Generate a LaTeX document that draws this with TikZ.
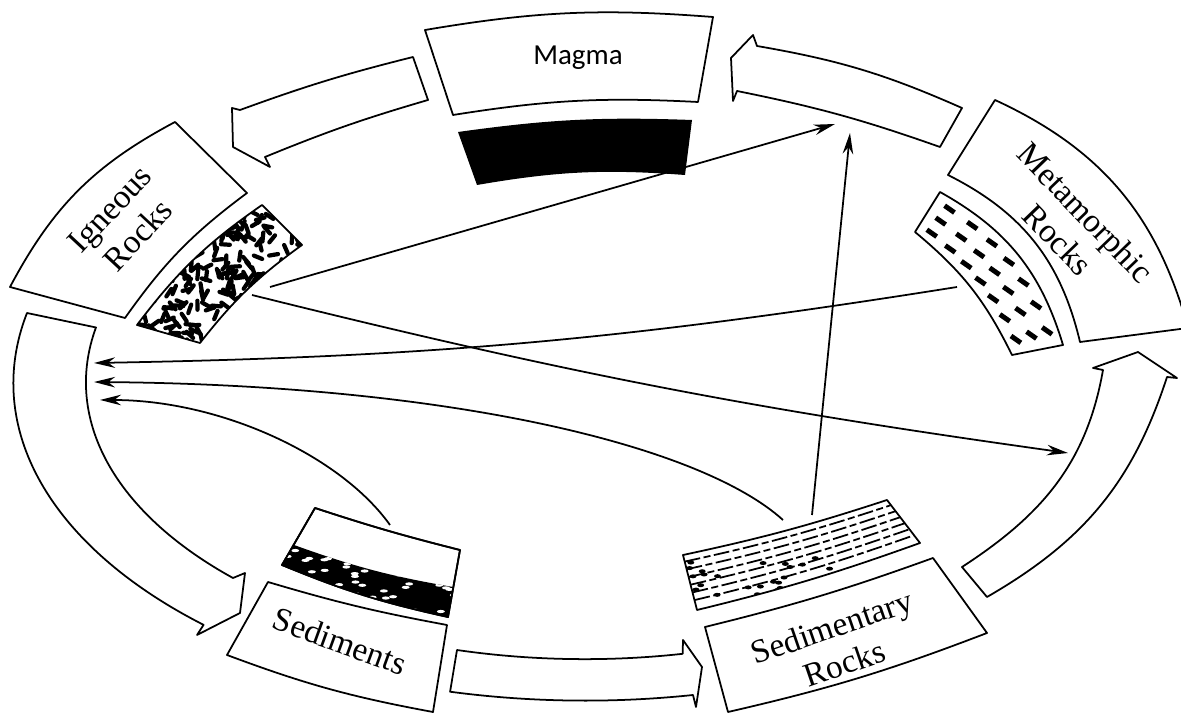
\documentclass[tikz,border=0pt]{standalone}
\usepackage{fontspec}
\setmainfont{Liberation Serif}
\newfontfamily\magmafont{Carlito}
\usetikzlibrary{arrows.meta,calc}

\begin{document}
\begin{tikzpicture}[x=0.02cm,y=-0.02cm,>={Stealth[length=12pt,width=6pt]},line join=round,
	edge/.style={draw,line width=1pt},
	ring/.style={edge,fill=white},
	link/.style={->,line width=1pt},
	rocklabel/.style={font=\fontsize{19}{22}\selectfont,align=center,inner sep=0pt},
	grain/.style={line width=2.4pt,line cap=round},
	flake/.style={line width=2.8pt},
	stratum/.style={line width=1pt,dash pattern=on 9pt off 2pt on 4pt off 2pt}]

\useasboundingbox (0,0) rectangle (1181,715);

% magma
\draw[ring] (425,30) to[bend left=7] (713,17) -- (698,102) to[bend right=6] (453,115) -- cycle;
\fill (458,132) to[bend left=5] (692,120) -- (685,175) to[bend right=7] (477,185) -- cycle;
\node[font=\magmafont\fontsize{16.5}{19}\selectfont] (magma) at (578,58) {Magma};

% arrows of the cycle
\draw[ring] (413,57) to[bend right=3] (240,110) -- (232,108) -- (233,147) -- (270,167) -- (265,157) to[bend left=3] (428,100) -- cycle;
\draw[ring] (27,313) arc[start angle=192.5,end angle=132,x radius=575,y radius=325] -- (197,635) -- (240,613) -- (245,573) -- (233,578) arc[start angle=134.9,end angle=191.5,x radius=500,y radius=276] -- cycle;
\draw[ring] (457,650) arc[start angle=104.8,end angle=78.7,x radius=500,y radius=276] -- (683,640) -- (702,667) -- (696,707) -- (693,695) arc[start angle=79.2,end angle=103.6,x radius=575,y radius=318] -- cycle;
\draw[ring] (962,567) to[out=33,in=-100] (1103,370) -- (1093,368) -- (1138,352) -- (1177,378) -- (1167,377) to[out=-108,in=30] (987,597) -- cycle;
\draw[ring] (757,46) to[bend left=7] (962,108) -- (940,147) to[bend right=4] (737,91) -- (733,101) -- (731,58) -- (753,35) -- cycle;

% igneous rocks
\draw[ring] (10,287) to[bend left=17] (175,122) -- (247,193) to[bend right=9] (125,318) -- cycle;
\node[rocklabel,rotate=47] (igneous) at (124,222) {Igneous\\Rocks};
\begin{scope}
	\clip (137,325) to[bend left=9] (262,205) -- (302,245) to[bend right=8] (200,343) -- cycle;
	\pgfmathsetseed{11}
	\foreach \k in {1,...,300}{
		\pgfmathsetmacro\gx{130+180*rnd}
		\pgfmathsetmacro\gy{200+150*rnd}
		\pgfmathsetmacro\ga{360*rnd}
		\draw[grain] (\gx,\gy) -- ++(\ga:9);
	}
\end{scope}
\draw[edge] (137,325) to[bend left=9] (262,205) -- (302,245) to[bend right=8] (200,343) -- cycle;

% metamorphic rocks
\draw[ring] (995,100) to[bend left=25] (1188,328) -- (1080,342) to[bend right=25] (948,175) -- cycle;
\node[rocklabel,rotate=-46] (metamorphic) at (1072,226) {Metamorphic\\Rocks};
\foreach \u in {0.08,0.22,0.36,0.5,0.64,0.78,0.92}{
	\path (940,192) to[bend left=22] coordinate[pos=\u] (mo) (1063,345);
	\path (915,232) to[bend left=12] coordinate[pos=\u] (mi) (1012,355);
	\foreach \v in {0.2,0.5,0.8}
		\draw[flake] ($(mo)!\v!(mi)$) ++(215:6) -- ++(35:12);
}
\draw[edge] (940,192) to[bend left=22] (1063,345) -- (1012,355) to[bend right=12] (915,232) -- cycle;

% sediments
\draw[ring] (315,508) to[bend right=2] (460,550) -- (448,617) to[bend left=5] (282,565) -- cycle;
\fill (294,545) to[bend right=5] (453,587) -- (448,617) to[bend left=5] (282,565) -- cycle;
\begin{scope}
	\clip (294,545) to[bend right=5] (453,587) -- (448,617) to[bend left=5] (282,565) -- cycle;
	\pgfmathsetseed{5}
	\foreach \k in {1,...,80}{
		\pgfmathsetmacro\sx{280+175*rnd}
		\pgfmathsetmacro\sy{540+80*rnd}
		\fill[white] (\sx,\sy) ellipse[x radius=4,y radius=1.6];
	}
\end{scope}
\draw[edge] (315,508) to[bend right=2] (460,550) -- (448,617) to[bend left=5] (282,565) -- cycle;
\draw[ring] (268,582) to[bend right=3] (447,625) -- (433,712) to[bend left=5] (227,655) -- cycle;
\node[rocklabel,rotate=-20] (sediments) at (340,641) {Sediments};

% sedimentary rocks
\foreach \v in {0.12,0.26,0.4,0.54,0.68,0.82}
	\draw[stratum] ($(683,555)!\v!(697,610)$) to[bend right=3] ($(887,500)!\v!(920,543)$);
\begin{scope}
	\clip (683,555) to[bend right=3] (887,500) -- (920,543) to[bend left=3] (697,610) -- cycle;
	\pgfmathsetseed{3}
	\foreach \k in {1,...,45}{
		\pgfmathsetmacro\bx{688+160*rnd}
		\pgfmathsetmacro\by{555+50*rnd}
		\fill (\bx,\by) ellipse[x radius=3.5,y radius=2];
	}
\end{scope}
\draw[edge] (683,555) to[bend right=3] (887,500) -- (920,543) to[bend left=3] (697,610) -- cycle;
\draw[ring] (705,627) to[bend right=3] (933,558) -- (987,633) to[bend left=4] (728,712) -- cycle;
\node[rocklabel,rotate=19] (sedimentary) at (838,645) {Sedimentary\\Rocks};

% links between the rocks
\coordinate (igA) at (270,287);
\coordinate (igB) at (252,295);
\coordinate (meA) at (957,287);
\coordinate (srA) at (783,520);
\coordinate (srB) at (812,515);
\coordinate (sdA) at (390,525);
\coordinate (magA) at (835,124);
\coordinate (magB) at (850,133);
\coordinate (upA) at (1068,453);
\coordinate (lfA) at (94,363);
\coordinate (lfB) at (94,382);
\coordinate (lfC) at (100,400);

\draw[link] (igA) -- (magA);
\draw[link] (srB) -- (magB);
\draw[link] (igB) to[bend right=3] (upA);
\draw[link] (meA) to[bend left=4] (lfA);
\draw[link] (srA) .. controls (700,445) and (450,385) .. (lfB);
\draw[link] (sdA) .. controls (340,455) and (220,400) .. (lfC);

\end{tikzpicture}
\end{document}
